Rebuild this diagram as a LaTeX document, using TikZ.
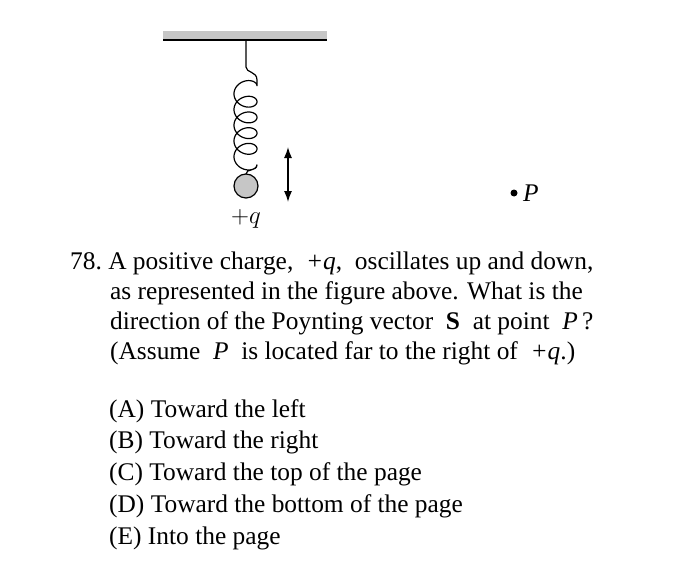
\documentclass[tikz,border=0pt]{standalone}
\usepackage{fontspec}
\setmainfont{Liberation Serif}
\usetikzlibrary{arrows.meta}
\begin{document}
\begin{tikzpicture}[x=1pt,y=-1pt,
  txt/.style={anchor=base west,inner sep=0pt,font=\fontsize{25.4}{30}\selectfont}]
\useasboundingbox (0,0) rectangle (678,578);
\fill[gray!45] (163,31) rectangle (327,39);
\draw[line width=1.5pt] (163,40) -- (327,40);
\coordinate (top) at (246,40);
\draw[line width=1.2pt] (top) -- (246,67) .. controls (246,73) and (257,71) .. (257,80)
  -- plot[domain=0:31.4159,samples=240,smooth,variable=\t] ({245.5+11.5*cos(\t r)},{86+2.5*\t-9*sin(\t r)})
  .. controls (257,172) and (246,168) .. (246,174);
\node[draw,fill=gray!45,circle,minimum size=24pt,inner sep=0pt,line width=1.2pt] (ball) at (246,186) {};
\coordinate (aU) at (288,147); \coordinate (aD) at (288,202);
\draw[line width=1.4pt,{Latex[length=11pt,width=8pt]}-{Latex[length=11pt,width=8pt]}] (aU) -- (aD);
\node[txt,anchor=base] (q) at (246,223) {$+q$};
\fill (514,193) circle (3.5);
\node[txt] (P) at (523,201) {\textit{P}};
\node[txt] (l1) at (70,269) {78.\ A positive charge,\ \ \textit{+q},\ \ oscillates up and down,};
\node[txt] (l2) at (110,299) {as represented in the figure above. What is the};
\node[txt] (l3) at (110,329) {direction of the Poynting vector\ \ \textbf{S}\ \ at point\ \ \textit{P}\,?};
\node[txt] (l4) at (110,359) {(Assume\ \ \textit{P}\ \ is located far to the right of\ \ \textit{+q}.)};
\node[txt] (a) at (109,417) {(A)\ Toward the left};
\node[txt] (b) at (109,448) {(B)\ Toward the right};
\node[txt] (c) at (109,480) {(C)\ Toward the top of the page};
\node[txt] (d) at (109,512) {(D)\ Toward the bottom of the page};
\node[txt] (e) at (109,544) {(E)\ Into the page};
\end{tikzpicture}
\end{document}
